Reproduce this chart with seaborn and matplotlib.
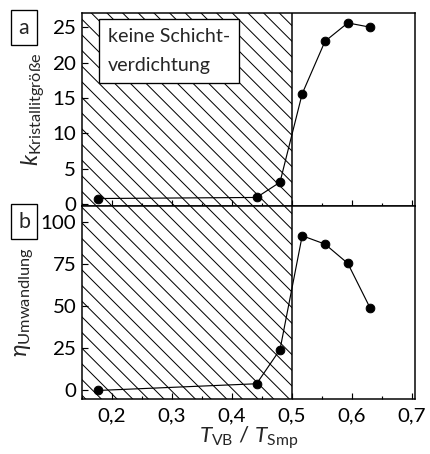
import matplotlib
matplotlib.use("Agg")
import matplotlib.pyplot as plt
import seaborn as sns
import pandas as pd
from matplotlib.ticker import MultipleLocator, FixedLocator, FixedFormatter

# ---- data ----
t_ratio = [0.177, 0.441, 0.480, 0.517, 0.555, 0.593, 0.630]
k_size = [0.8, 0.95, 3.1, 15.6, 23.0, 25.6, 25.0]
eta_conv = [-0.4, 3.6, 24.0, 92.0, 87.0, 75.5, 49.0]
x_ticks = [0.2, 0.3, 0.4, 0.5, 0.6, 0.7]
x_ticklabels = ["0,2", "0,3", "0,4", "0,5", "0,6", "0,7"]
k_ticks = [0, 5, 10, 15, 20, 25]
eta_ticks = [0, 25, 50, 75, 100]
hatch_range = [0.15, 0.5]
box_text = "keine Schicht-\nverdichtung"

df = pd.DataFrame({"x": t_ratio, "k": k_size, "eta": eta_conv})

DPI = 94
def pt(v):
    # sizes tuned for 120 dpi, rescaled to the chosen dpi
    return v * 120.0 / DPI

sns.set_theme(style="ticks")
plt.rcParams["font.family"] = ["Lato", "DejaVu Sans"]
plt.rcParams["mathtext.fontset"] = "custom"
plt.rcParams["mathtext.rm"] = "Lato"
plt.rcParams["mathtext.it"] = "Lato:italic"
plt.rcParams["hatch.linewidth"] = pt(0.6)
plt.rcParams["hatch.color"] = "black"

BS = chr(92)
fig = plt.figure(figsize=(430 / DPI, 454 / DPI), dpi=DPI)
W, H = 430, 454
left, right = 82 / W, 415 / W
top_a, mid, bot = 1 - 13 / H, 1 - 205.6 / H, 1 - 399 / H
ax_a = fig.add_axes([left, mid, right - left, top_a - mid])
ax_b = fig.add_axes([left, bot, right - left, mid - bot])

FS = pt(12.3)
for ax, col, ylim, yt in [(ax_a, "k", (-0.2, 27), k_ticks), (ax_b, "eta", (-5.5, 110), eta_ticks)]:
    ax.axvspan(hatch_range[0], hatch_range[1], facecolor="none", edgecolor="black",
               hatch=BS * 2, linewidth=0, zorder=0)
    ax.axvline(hatch_range[1], color="black", lw=pt(0.9), zorder=1)
    sns.lineplot(data=df, x="x", y=col, ax=ax, color="black", lw=pt(0.7),
                 marker="o", markersize=pt(5.2), markeredgecolor="black", zorder=3)
    ax.set_xlim(0.15, 0.705)
    ax.set_ylim(*ylim)
    ax.xaxis.set_major_locator(FixedLocator(x_ticks))
    ax.xaxis.set_minor_locator(MultipleLocator(0.05))
    ax.yaxis.set_major_locator(FixedLocator(yt))
    ax.tick_params(axis="both", which="both", direction="in", colors="black",
                   labelsize=FS, width=pt(0.7), top=False, right=False)
    ax.tick_params(axis="both", which="major", length=pt(3.5), pad=pt(3.5))
    ax.tick_params(axis="both", which="minor", length=pt(2))
    ax.tick_params(axis="y", which="minor", left=False)
    ax.tick_params(axis="x", which="major", pad=pt(5))
    for s in ax.spines.values():
        s.set_linewidth(pt(0.9))
        s.set_color("black")
    ax.set_xlabel("")

ax_a.xaxis.set_major_formatter(FixedFormatter([""] * len(x_ticks)))
ax_b.xaxis.set_major_formatter(FixedFormatter(x_ticklabels))

ax_a.set_ylabel(r"$k_{\mathregular{Kristallitgröße}}$", fontsize=pt(14), labelpad=pt(3))
ax_b.set_ylabel(r"$\eta_{\mathregular{Umwandlung}}$", fontsize=pt(14), labelpad=pt(3))
ax_b.set_xlabel(r"$T_{\mathregular{VB}}$ / $T_{\mathregular{Smp}}$", fontsize=pt(13.5), labelpad=0)

ax_a.text(0.193, 24.9, box_text, fontsize=pt(11.8), va="top", ha="left", linespacing=1.85,
          bbox=dict(boxstyle="square,pad=0.45", facecolor="white", edgecolor="black", linewidth=pt(0.8)),
          zorder=4)

for lab, y in [("a", 1 - 27.5 / H), ("b", 1 - 221.5 / H)]:
    fig.text(24 / W, y, lab, fontsize=FS + pt(0.5), ha="center", va="center",
             bbox=dict(boxstyle="square,pad=0.35", facecolor="white", edgecolor="black", linewidth=pt(0.8)))

fig.savefig("out.png", dpi=DPI)
